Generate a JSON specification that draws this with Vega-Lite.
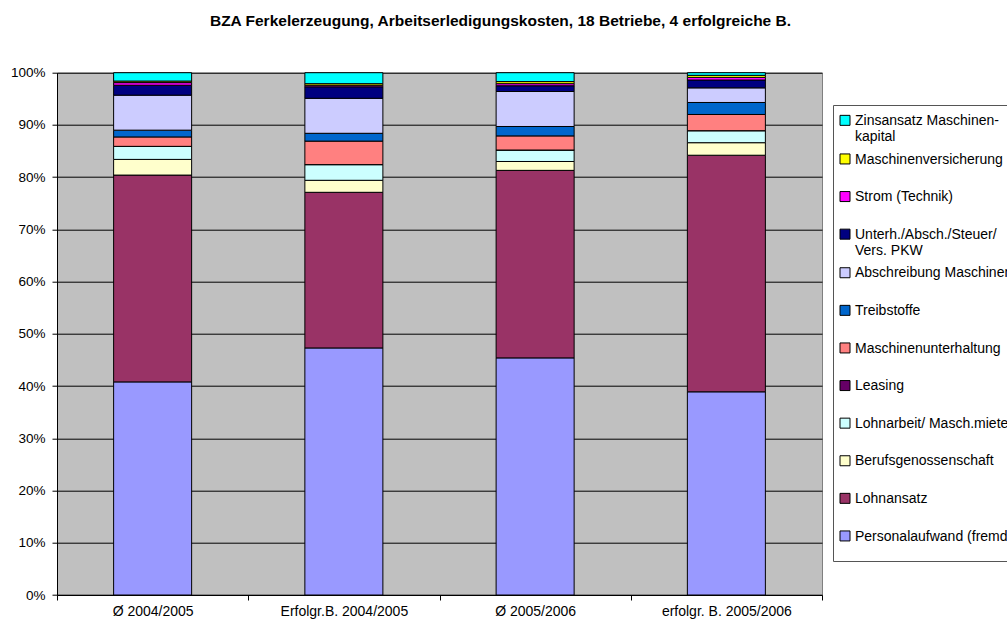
{
  "$schema": "https://vega.github.io/schema/vega-lite/v6.json",
  "width": 765,
  "height": 522.3,
  "autosize": {"type": "none"},
  "padding": {"left": 57, "top": 72.7, "right": 185, "bottom": 25},
  "background": "white",
  "title": {
    "text": "BZA Ferkelerzeugung, Arbeitserledigungskosten, 18 Betriebe, 4 erfolgreiche B.",
    "font": "Liberation Sans",
    "fontSize": 15.5,
    "fontWeight": "bold",
    "color": "black",
    "anchor": "middle",
    "frame": "group",
    "dx": 61,
    "offset": 36
  },
  "data": {
    "values": [
      {"Betrieb": "Ø 2004/2005", "Kostenart": "Personalaufwand (fremd)", "Anteil": 40.8},
      {"Betrieb": "Ø 2004/2005", "Kostenart": "Lohnansatz", "Anteil": 39.6},
      {"Betrieb": "Ø 2004/2005", "Kostenart": "Berufsgenossenschaft", "Anteil": 3.0},
      {"Betrieb": "Ø 2004/2005", "Kostenart": "Lohnarbeit/ Masch.miete", "Anteil": 2.5},
      {"Betrieb": "Ø 2004/2005", "Kostenart": "Leasing", "Anteil": 0.0},
      {"Betrieb": "Ø 2004/2005", "Kostenart": "Maschinenunterhaltung", "Anteil": 1.8},
      {"Betrieb": "Ø 2004/2005", "Kostenart": "Treibstoffe", "Anteil": 1.3},
      {"Betrieb": "Ø 2004/2005", "Kostenart": "Abschreibung Maschinen", "Anteil": 6.7},
      {"Betrieb": "Ø 2004/2005", "Kostenart": "Unterh./Absch./Steuer/Vers. PKW", "Anteil": 1.9},
      {"Betrieb": "Ø 2004/2005", "Kostenart": "Strom (Technik)", "Anteil": 0.5},
      {"Betrieb": "Ø 2004/2005", "Kostenart": "Maschinenversicherung", "Anteil": 0.3},
      {"Betrieb": "Ø 2004/2005", "Kostenart": "Zinsansatz Maschinenkapital", "Anteil": 1.6},
      {"Betrieb": "Erfolgr.B. 2004/2005", "Kostenart": "Personalaufwand (fremd)", "Anteil": 47.3},
      {"Betrieb": "Erfolgr.B. 2004/2005", "Kostenart": "Lohnansatz", "Anteil": 29.8},
      {"Betrieb": "Erfolgr.B. 2004/2005", "Kostenart": "Berufsgenossenschaft", "Anteil": 2.3},
      {"Betrieb": "Erfolgr.B. 2004/2005", "Kostenart": "Lohnarbeit/ Masch.miete", "Anteil": 3.0},
      {"Betrieb": "Erfolgr.B. 2004/2005", "Kostenart": "Leasing", "Anteil": 0.0},
      {"Betrieb": "Erfolgr.B. 2004/2005", "Kostenart": "Maschinenunterhaltung", "Anteil": 4.5},
      {"Betrieb": "Erfolgr.B. 2004/2005", "Kostenart": "Treibstoffe", "Anteil": 1.5},
      {"Betrieb": "Erfolgr.B. 2004/2005", "Kostenart": "Abschreibung Maschinen", "Anteil": 6.7},
      {"Betrieb": "Erfolgr.B. 2004/2005", "Kostenart": "Unterh./Absch./Steuer/Vers. PKW", "Anteil": 2.2},
      {"Betrieb": "Erfolgr.B. 2004/2005", "Kostenart": "Strom (Technik)", "Anteil": 0.3},
      {"Betrieb": "Erfolgr.B. 2004/2005", "Kostenart": "Maschinenversicherung", "Anteil": 0.3},
      {"Betrieb": "Erfolgr.B. 2004/2005", "Kostenart": "Zinsansatz Maschinenkapital", "Anteil": 2.1},
      {"Betrieb": "Ø 2005/2006", "Kostenart": "Personalaufwand (fremd)", "Anteil": 45.4},
      {"Betrieb": "Ø 2005/2006", "Kostenart": "Lohnansatz", "Anteil": 35.9},
      {"Betrieb": "Ø 2005/2006", "Kostenart": "Berufsgenossenschaft", "Anteil": 1.7},
      {"Betrieb": "Ø 2005/2006", "Kostenart": "Lohnarbeit/ Masch.miete", "Anteil": 2.2},
      {"Betrieb": "Ø 2005/2006", "Kostenart": "Leasing", "Anteil": 0.0},
      {"Betrieb": "Ø 2005/2006", "Kostenart": "Maschinenunterhaltung", "Anteil": 2.7},
      {"Betrieb": "Ø 2005/2006", "Kostenart": "Treibstoffe", "Anteil": 1.8},
      {"Betrieb": "Ø 2005/2006", "Kostenart": "Abschreibung Maschinen", "Anteil": 6.7},
      {"Betrieb": "Ø 2005/2006", "Kostenart": "Unterh./Absch./Steuer/Vers. PKW", "Anteil": 1.1},
      {"Betrieb": "Ø 2005/2006", "Kostenart": "Strom (Technik)", "Anteil": 0.4},
      {"Betrieb": "Ø 2005/2006", "Kostenart": "Maschinenversicherung", "Anteil": 0.4},
      {"Betrieb": "Ø 2005/2006", "Kostenart": "Zinsansatz Maschinenkapital", "Anteil": 1.7},
      {"Betrieb": "erfolgr. B. 2005/2006", "Kostenart": "Personalaufwand (fremd)", "Anteil": 38.9},
      {"Betrieb": "erfolgr. B. 2005/2006", "Kostenart": "Lohnansatz", "Anteil": 45.3},
      {"Betrieb": "erfolgr. B. 2005/2006", "Kostenart": "Berufsgenossenschaft", "Anteil": 2.4},
      {"Betrieb": "erfolgr. B. 2005/2006", "Kostenart": "Lohnarbeit/ Masch.miete", "Anteil": 2.3},
      {"Betrieb": "erfolgr. B. 2005/2006", "Kostenart": "Leasing", "Anteil": 0.0},
      {"Betrieb": "erfolgr. B. 2005/2006", "Kostenart": "Maschinenunterhaltung", "Anteil": 3.1},
      {"Betrieb": "erfolgr. B. 2005/2006", "Kostenart": "Treibstoffe", "Anteil": 2.3},
      {"Betrieb": "erfolgr. B. 2005/2006", "Kostenart": "Abschreibung Maschinen", "Anteil": 2.8},
      {"Betrieb": "erfolgr. B. 2005/2006", "Kostenart": "Unterh./Absch./Steuer/Vers. PKW", "Anteil": 1.5},
      {"Betrieb": "erfolgr. B. 2005/2006", "Kostenart": "Strom (Technik)", "Anteil": 0.5},
      {"Betrieb": "erfolgr. B. 2005/2006", "Kostenart": "Maschinenversicherung", "Anteil": 0.4},
      {"Betrieb": "erfolgr. B. 2005/2006", "Kostenart": "Zinsansatz Maschinenkapital", "Anteil": 0.5}
    ]
  },
  "transform": [
    {"calculate": "indexof(['Personalaufwand (fremd)', 'Lohnansatz', 'Berufsgenossenschaft', 'Lohnarbeit/ Masch.miete', 'Leasing', 'Maschinenunterhaltung', 'Treibstoffe', 'Abschreibung Maschinen', 'Unterh./Absch./Steuer/Vers. PKW', 'Strom (Technik)', 'Maschinenversicherung', 'Zinsansatz Maschinenkapital'], datum.Kostenart)", "as": "stapel"}
  ],
  "mark": {"type": "bar", "stroke": "black", "strokeWidth": 1, "width": {"band": 0.408}},
  "encoding": {
    "x": {
      "field": "Betrieb",
      "type": "nominal",
      "sort": null,
      "scale": {"paddingInner": 0, "paddingOuter": 0},
      "axis": {
        "title": null,
        "labelAngle": 0,
        "tickBand": "extent",
        "grid": false,
        "domainColor": "black",
        "tickColor": "black",
        "tickSize": 5,
        "labelFont": "Liberation Sans",
        "labelFontSize": 14,
        "labelColor": "black",
        "labelPadding": 4
      }
    },
    "y": {
      "field": "Anteil",
      "type": "quantitative",
      "stack": "normalize",
      "scale": {"domain": [0, 1]},
      "axis": {
        "title": null,
        "values": [0, 0.1, 0.2, 0.3, 0.4, 0.5, 0.6, 0.7, 0.8, 0.9, 1],
        "format": "%",
        "grid": true,
        "gridColor": "black",
        "gridOpacity": 1,
        "domainColor": "black",
        "tickColor": "black",
        "tickSize": 5,
        "labelFont": "Liberation Sans",
        "labelFontSize": 13.5,
        "labelColor": "black",
        "labelPadding": 7
      }
    },
    "color": {
      "field": "Kostenart",
      "type": "nominal",
      "scale": {
        "domain": ["Zinsansatz Maschinenkapital", "Maschinenversicherung", "Strom (Technik)", "Unterh./Absch./Steuer/Vers. PKW", "Abschreibung Maschinen", "Treibstoffe", "Maschinenunterhaltung", "Leasing", "Lohnarbeit/ Masch.miete", "Berufsgenossenschaft", "Lohnansatz", "Personalaufwand (fremd)"],
        "range": ["#00FFFF", "#FFFF00", "#FF00FF", "#000080", "#CCCCFF", "#0066CC", "#FF8080", "#660066", "#CCFFFF", "#FFFFCC", "#993366", "#9999FF"]
      },
      "legend": {
        "title": null,
        "orient": "none",
        "legendX": 776,
        "legendY": 32.3,
        "padding": 2,
        "fillColor": "white",
        "strokeColor": "#555555",
        "clipHeight": 36,
        "rowPadding": 1.6,
        "symbolType": "M-1,-1.93H1V0.07H-1Z",
        "symbolSize": 100,
        "symbolStrokeColor": "black",
        "symbolStrokeWidth": 1,
        "symbolOffset": 3,
        "labelOffset": 3,
        "labelBaseline": "alphabetic",
        "labelFont": "Liberation Sans",
        "labelFontSize": 14,
        "labelColor": "black",
        "labelLimit": 600,
        "labelExpr": "datum.label == 'Zinsansatz Maschinenkapital' ? ['Zinsansatz Maschinen-', 'kapital'] : datum.label == 'Unterh./Absch./Steuer/Vers. PKW' ? ['Unterh./Absch./Steuer/', 'Vers.  PKW'] : datum.label + '\u00a0\u00a0\u00a0\u00a0\u00a0\u00a0\u00a0\u00a0\u00a0\u00a0\u00a0\u00a0\u00a0\u00a0\u00a0\u00a0'"
      }
    },
    "order": {"field": "stapel", "type": "quantitative"}
  },
  "config": {
    "view": {"fill": "#C0C0C0", "stroke": "#808080"},
    "font": "Liberation Sans"
  }
}
